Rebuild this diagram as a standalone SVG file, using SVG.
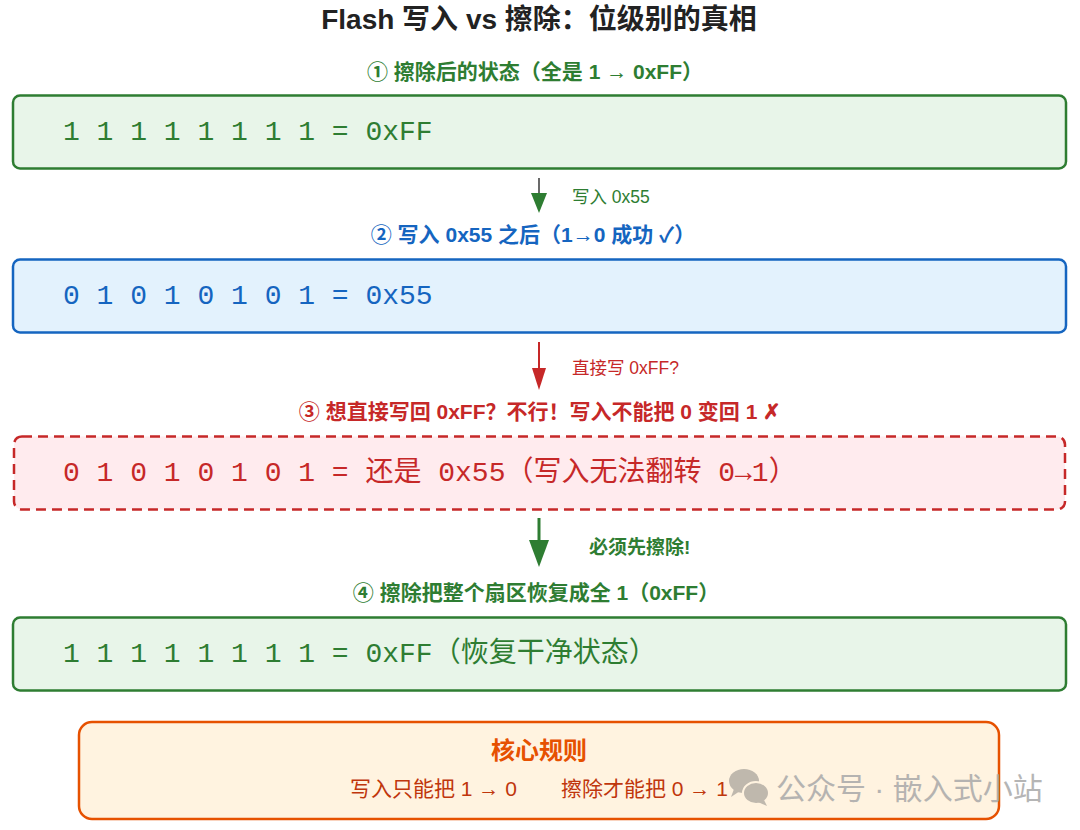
<svg xmlns="http://www.w3.org/2000/svg" width="1080" height="830" viewBox="0 0 1080 830">
<style>
.sans{font-family:"Liberation Sans","Noto Sans CJK SC",sans-serif}
.title{font-size:28px;font-weight:bold;fill:#222}
.lbl{font-size:21px;font-weight:bold;text-anchor:middle}
.bits{font-family:"Liberation Mono","Noto Sans CJK SC",monospace;font-size:28px}
.alab{font-size:17.5px}
.g{fill:#2e7d32}.b{fill:#1565c0}.r{fill:#c62828}
</style>
<rect width="1080" height="830" fill="#ffffff"/>
<text class="sans title" x="539" y="29" text-anchor="middle">Flash 写入 vs 擦除：位级别的真相</text>

<g id="node-erased">
<text class="sans lbl g" x="535" y="79">① 擦除后的状态（全是 1 → 0xFF）</text>
<rect x="13" y="95.5" width="1053" height="73" rx="7" fill="#e8f5e9" stroke="#2e7d32" stroke-width="2.5"/>
<text class="bits g" x="63" y="140">1 1 1 1 1 1 1 1 = 0xFF</text>
</g>

<g id="node-written">
<text class="sans lbl b" x="533" y="242">② 写入 0x55 之后（1→0 成功 ✓）</text>
<rect x="13" y="259.5" width="1053" height="73" rx="7" fill="#e3f2fd" stroke="#1565c0" stroke-width="2.5"/>
<text class="bits b" x="63" y="304">0 1 0 1 0 1 0 1 = 0x55</text>
</g>

<g id="node-rewrite">
<text class="sans lbl r" x="540" y="419">③ 想直接写回 0xFF？不行！写入不能把 0 变回 1 ✗</text>
<rect x="14" y="436.5" width="1051" height="73" rx="8" fill="#ffebee" stroke="#c62828" stroke-width="2.5" stroke-dasharray="10 6"/>
<text class="bits r" x="63" y="481">0 1 0 1 0 1 0 1 = 还是 0x55（写入无法翻转 0→1）</text>
</g>

<g id="node-erase-again">
<text class="sans lbl g" x="536" y="600">④ 擦除把整个扇区恢复成全 1（0xFF）</text>
<rect x="13" y="617.5" width="1053" height="73" rx="7" fill="#e8f5e9" stroke="#2e7d32" stroke-width="2.5"/>
<text class="bits g" x="63" y="662">1 1 1 1 1 1 1 1 = 0xFF（恢复干净状态）</text>
</g>

<g id="node-rule">
<rect x="79" y="722" width="920" height="97" rx="13" fill="#fff3e0" stroke="#e65100" stroke-width="2.5"/>
<text class="sans" x="539" y="759" text-anchor="middle" font-size="24" font-weight="bold" fill="#e65100">核心规则</text>
<text class="sans" x="350" y="796" font-size="21" fill="#bf360c">写入只能把 1 → 0</text>
<text class="sans" x="561" y="796" font-size="21" fill="#bf360c">擦除才能把 0 → 1</text>
</g>

<g id="connectors">
<line x1="539" y1="178" x2="539" y2="196" stroke="#444" stroke-width="1.6"/>
<polygon points="531,193 547,193 539,213" fill="#2e7d32"/>
<text class="sans alab g" x="572" y="203">写入 0x55</text>

<line x1="539" y1="342" x2="539" y2="370" stroke="#c62828" stroke-width="2"/>
<polygon points="532,368 546,368 539,390" fill="#c62828"/>
<text class="sans alab r" x="572" y="374">直接写 0xFF?</text>

<line x1="539" y1="518" x2="539" y2="543" stroke="#2e7d32" stroke-width="3"/>
<polygon points="529,540 549,540 539,567" fill="#2e7d32"/>
<text class="sans g" x="589" y="554" font-size="19" font-weight="bold">必须先擦除!</text>
</g>

<g id="watermark" opacity="0.85">
<ellipse cx="744" cy="781" rx="15" ry="12" fill="#b5aea5"/>
<polygon points="734,789 731,797 740,791" fill="#b5aea5"/>
<ellipse cx="756" cy="793" rx="13" ry="11" fill="#b5aea5" stroke="#fff3e0" stroke-width="2"/>
<polygon points="764,800 767,806 758,802" fill="#b5aea5"/>
<text class="sans" x="776" y="799" font-size="30" fill="#a9a9a9">公众号 · 嵌入式小站</text>
</g>
</svg>
